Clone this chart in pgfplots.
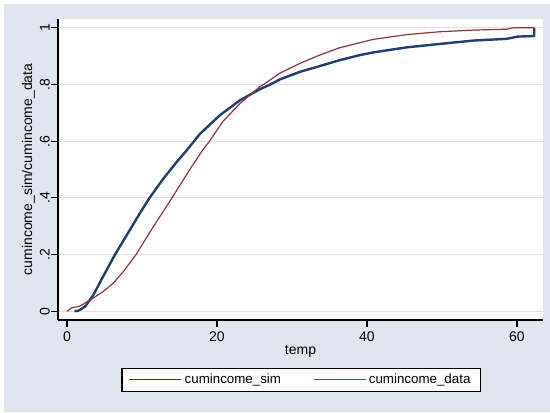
\documentclass[border=0pt]{standalone}
\usepackage{fontspec}
\setmainfont{Liberation Sans}
\usepackage{pgfplots}
\pgfplotsset{compat=1.18}

\definecolor{bgc}{RGB}{224,229,240}
\definecolor{gridc}{RGB}{218,224,236}
\definecolor{simc}{RGB}{32,62,118}
\definecolor{datac}{RGB}{144,53,59}

\begin{document}
\begin{tikzpicture}
  % page: 550x412 px, 1px = 0.75pt; axis box SW corner at (0,0)
  \fill[white] (-43.5pt,-69pt) rectangle (369pt,240pt);
  \fill[bgc] (-40.5pt,-69pt) rectangle (369pt,237pt);
  \begin{axis}[
      scale only axis,
      width=363.75pt, height=225.75pt,
      xmin=-1.2, xmax=63.47,
      ymin=-0.0307, ymax=1.031,
      axis background/.style={fill=white},
      axis x line*=bottom, axis y line*=left,
      axis line style={black, line width=0.8pt, -},
      tick align=outside,
      major tick length=5pt,
      tick style={black, line width=0.8pt},
      xtick={0,20,40,60},
      ytick={0,0.2,0.4,0.6,0.8,1},
      yticklabels={0,.2,.4,.6,.8,1},
      ymajorgrids,
      grid style={gridc, line width=0.8pt},
      /pgf/number format/assume math mode=true,
      font=\fontsize{10.5}{12}\selectfont,
      ticklabel style={font=\fontsize{10.5}{12}\selectfont},
      yticklabel style={rotate=90, anchor=south, inner sep=1pt},
      xlabel={temp},
      ylabel={cumincome\_sim/cumincome\_data},
      every axis x label/.style={at={(axis description cs:0.5,-0.103)}, anchor=center},
      every axis y label/.style={at={(axis description cs:-0.061,0.5)}, rotate=90, anchor=center},
      legend style={name=leg, at={(axis description cs:0.501,-0.198)}, anchor=center,
        fill=white, legend columns=2,
        font=\fontsize{10}{12}\selectfont, inner xsep=5pt, inner ysep=2pt,
        /tikz/every even column/.append style={column sep=22pt}},
      legend cell align=left,
    ]
    \addplot[color=simc, line width=1.8pt, line join=round, forget plot] coordinates {
      (1.0,0) (1.5,0.002) (2.4,0.016) (3.5,0.057) (4.8,0.122) (6.4,0.2)
      (8.0,0.27) (9.7,0.345) (11.0,0.4) (12.8,0.466) (14.6,0.526) (16.0,0.569)
      (17.7,0.625) (20.4,0.692) (23.1,0.745) (25.7,0.783) (27.1,0.8) (28.4,0.818)
      (31.1,0.845) (33.7,0.865) (36.4,0.886) (39.1,0.904) (40.8,0.913)
      (45.3,0.931) (49.7,0.943) (54.2,0.955) (58.6,0.961) (60.1,0.969)
      (62.3,0.971) (62.3,1.0)
    };
    \addplot[color=datac, line width=0.9pt, line join=round, forget plot] coordinates {
      (0,0) (0.6,0.012) (1.7,0.018) (3.1,0.04) (4.8,0.069) (6.2,0.1)
      (7.5,0.14) (9.2,0.2) (11.5,0.298) (14.0,0.40) (15.3,0.455) (16.5,0.505)
      (18.0,0.565) (19.0,0.60) (20.8,0.67) (23.1,0.734) (25.7,0.792) (26.2,0.8)
      (28.4,0.84) (31.1,0.875) (33.7,0.904) (36.4,0.93) (40.8,0.959)
      (45.3,0.976) (49.7,0.986) (54.2,0.992) (58.6,0.995) (59.5,1.0) (62.3,1.0)
    };
    \addlegendimage{legend image code/.code={\draw[simc, line width=0.9pt] (0pt,0pt) -- (39pt,0pt);}}
    \addlegendentry{cumincome\_sim}
    \addlegendimage{legend image code/.code={\draw[datac, line width=0.9pt] (0pt,0pt) -- (39pt,0pt);}}
    \addlegendentry{cumincome\_data}
  \end{axis}
  \draw[black, line width=0.75pt] (leg.south west) rectangle (leg.north east);
\end{tikzpicture}
\end{document}
